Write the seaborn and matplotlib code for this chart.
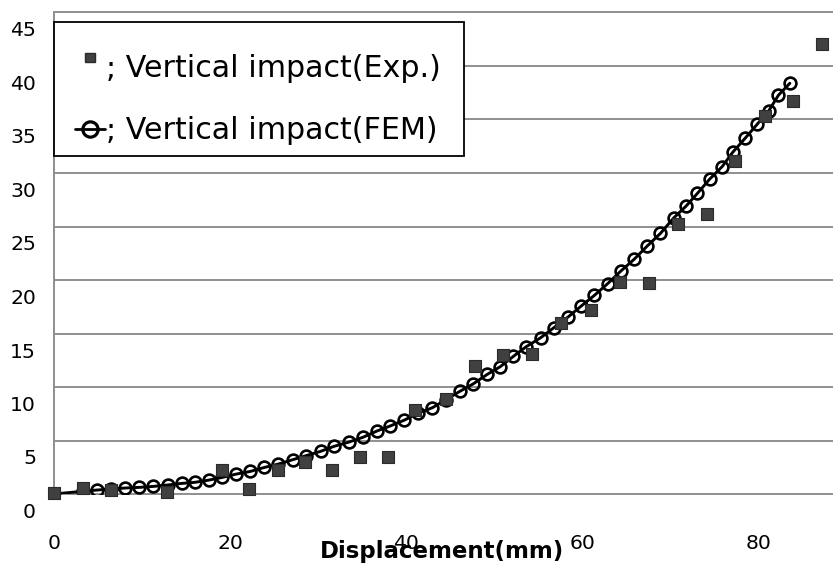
import matplotlib
matplotlib.use("Agg")
import matplotlib.pyplot as plt
from matplotlib.lines import Line2D
from matplotlib.markers import MarkerStyle
from matplotlib.patches import Rectangle
from matplotlib.transforms import ScaledTranslation, Affine2D
import seaborn as sns

# ---- data ----
exp_x = [0, 3.3, 6.5, 12.8, 19.05, 22.1, 25.4, 28.5, 31.6, 34.8, 37.9, 41.05,
         44.5, 47.8, 51.0, 54.3, 57.6, 61.0, 64.3, 67.6, 70.9, 74.2, 77.4,
         80.8, 84.0, 87.3]
exp_y = [0.1, 0.55, 0.33, 0.15, 2.25, 0.48, 2.2, 2.95, 2.25, 3.43, 3.43, 7.85,
         8.87, 12.0, 12.95, 13.1, 15.97, 17.15, 19.77, 19.7, 25.25, 26.2,
         31.08, 35.37, 36.7, 42.05]

fem_x = [0, 3.25, 4.9, 6.5, 8.1, 9.7, 11.3, 12.9, 14.5, 16.0, 17.6, 19.1,
         20.7, 22.3, 23.9, 25.5, 27.1, 28.6, 30.3, 31.8, 33.5, 35.1, 36.7,
         38.2, 39.8, 41.3, 43.0, 44.5, 46.1, 47.6, 49.2, 50.7, 52.2, 53.6,
         55.3, 56.8, 58.4, 59.9, 61.4, 62.9, 64.4, 65.9, 67.4, 68.9, 70.4,
         71.8, 73.1, 74.5, 75.9, 77.1, 78.5, 79.9, 81.2, 82.3, 83.6]
fem_y = [0, 0.25, 0.37, 0.47, 0.56, 0.62, 0.71, 0.84, 0.99, 1.09, 1.30, 1.55,
         1.86, 2.11, 2.48, 2.80, 3.20, 3.57, 3.99, 4.45, 4.85, 5.30, 5.89,
         6.36, 6.9, 7.53, 8.07, 8.8, 9.59, 10.28, 11.17, 11.9, 12.87, 13.74,
         14.61, 15.55, 16.54, 17.57, 18.57, 19.66, 20.84, 21.93, 23.18, 24.36,
         25.8, 26.9, 28.1, 29.44, 30.59, 31.93, 33.23, 34.57, 35.81, 37.27,
         38.39]

x_ticks = [0, 20, 40, 60, 80]
y_ticks = [0, 5, 10, 15, 20, 25, 30, 35, 40, 45]
exp_label = "; Vertical impact(Exp.)"
fem_label = "; Vertical impact(FEM)"
x_label = "Displacement(mm)"

# ---- style ----
sns.set_style("white")
plt.rcParams["font.family"] = ["DejaVu Sans"]
plt.rcParams["text.color"] = "black"

W, H = 833, 574
fig = plt.figure(figsize=(W / 100, H / 100), dpi=100)
ax = fig.add_axes([54 / W, 1 - 494 / H, (W - 54) / W, (494 - 12.5) / H])

sns.lineplot(x=fem_x, y=fem_y, ax=ax, sort=False, estimator=None,
             color="black", linewidth=2.1, marker="o", markersize=8.5,
             markerfacecolor="none", markeredgecolor="black",
             markeredgewidth=1.9, zorder=2)
sns.scatterplot(x=exp_x, y=exp_y, ax=ax, marker="s", s=78,
                color="#404040", edgecolor="#2b2b2b", linewidth=0.8, zorder=3)
for coll in ax.collections:
    coll.set_clip_on(False)

ax.set_xlim(0, 88.5)
ax.set_ylim(0, 45)
ax.set_xticks(x_ticks)
ax.set_yticks(y_ticks)

ax.grid(axis="y", color="#8f8f8f", linewidth=1.4)
ax.grid(axis="x", visible=False)
ax.set_axisbelow(True)
for gl in ax.get_ygridlines():
    gl.set_clip_on(False)

for side in ["top", "right", "bottom"]:
    ax.spines[side].set_visible(False)
ax.spines["left"].set_color("#8f8f8f")
ax.spines["left"].set_linewidth(1.4)

ax.tick_params(axis="both", length=0, labelsize=14.7, colors="black")
ax.tick_params(axis="y", pad=13)
ax.tick_params(axis="x", pad=28.5)

offset = ScaledTranslation(0, -16.5 / 100, fig.dpi_scale_trans)
for tick in ax.yaxis.get_major_ticks():
    tick.label1.set_transform(tick.label1.get_transform() + offset)

ax.set_xlabel(x_label, fontsize=16.5, fontweight="bold", color="black")
ax.xaxis.label.set_va("baseline")
ax.xaxis.set_label_coords(0.4987, -0.133)
ax.set_ylabel("")

# legend box (frame drawn separately so the text can sit as in the reference)
box = Rectangle((54 / W, 1 - 156 / H), 410 / W, 134 / H,
                transform=fig.transFigure, facecolor="white",
                edgecolor="black", linewidth=1.3, zorder=4, clip_on=False)
ax.add_patch(box)

raised_square = MarkerStyle("s", transform=Affine2D().translate(0, 0.9))
handles = [
    Line2D([], [], marker=raised_square, linestyle="none", color="#404040",
           markeredgecolor="#2b2b2b", markersize=6.5),
    Line2D([], [], marker="o", color="black", linewidth=2.0, markersize=11,
           markerfacecolor="none", markeredgewidth=2.3),
]
leg = ax.legend(handles, [exp_label, fem_label], loc="upper left",
                bbox_to_anchor=(74.5 / W, 1 - 54 / H),
                bbox_transform=fig.transFigure, borderaxespad=0,
                borderpad=0, fontsize=21.7, frameon=False,
                handlelength=1.0, handletextpad=0.05, labelspacing=1.1,
                labelcolor="black")
leg.set_zorder(5)

fig.savefig("out.png", dpi=100)
